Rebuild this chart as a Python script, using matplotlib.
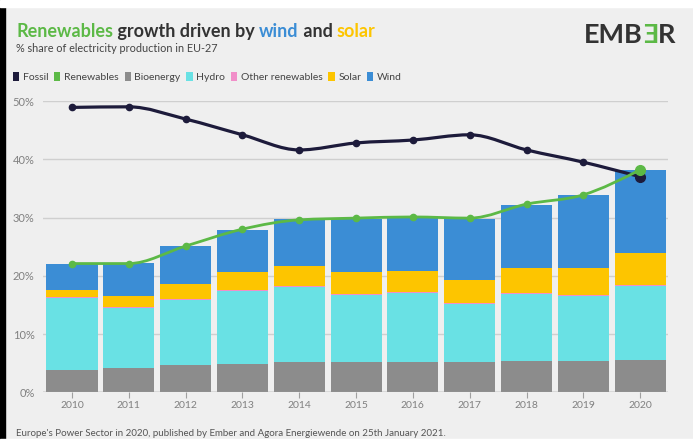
import numpy as np
import matplotlib
matplotlib.use("Agg")
import matplotlib.pyplot as plt
from matplotlib.path import Path
from matplotlib.patches import PathPatch, Patch, Rectangle

plt.rcParams['font.family'] = ['Lato', 'DejaVu Sans']

# data (% share of EU-27 electricity production)
years = [2010, 2011, 2012, 2013, 2014, 2015, 2016, 2017, 2018, 2019, 2020]
bioenergy = [3.8, 4.2, 4.7, 4.9, 5.2, 5.2, 5.2, 5.2, 5.3, 5.4, 5.6]
hydro = [12.4, 10.3, 11.1, 12.5, 12.8, 11.5, 11.8, 9.9, 11.6, 11.1, 12.6]
other_renewables = [0.2, 0.2, 0.2, 0.2, 0.2, 0.2, 0.2, 0.2, 0.2, 0.2, 0.2]
solar = [1.1, 1.8, 2.6, 3.0, 3.5, 3.7, 3.7, 3.9, 4.2, 4.6, 5.5]
wind = [4.6, 5.7, 6.5, 7.2, 8.0, 9.1, 9.1, 10.6, 10.9, 12.5, 14.3]
fossil = [48.9, 49.0, 46.9, 44.2, 41.6, 42.8, 43.3, 44.2, 41.6, 39.5, 37.0]
renewables = [22.1, 22.1, 25.1, 28.0, 29.6, 29.9, 30.1, 29.9, 32.3, 33.9, 38.2]
y_ticks = [0, 10, 20, 30, 40, 50]

BG = '#efefef'
DARK = '#333333'
colors = {
    'Fossil': '#1d1b3b',
    'Renewables': '#5cb946',
    'Bioenergy': '#8c8c8c',
    'Hydro': '#69e1e4',
    'Other renewables': '#f18fc9',
    'Solar': '#fdc500',
    'Wind': '#3b8dd5',
}

W, H = 693, 443
fig = plt.figure(figsize=(W / 100, H / 100), dpi=100, facecolor=BG)

# screenshot borders
fig.patches.append(Rectangle((0, 0), 5 / W, 1, transform=fig.transFigure, color='black', zorder=-1))
fig.patches.append(Rectangle((0, 1 - 7 / H), 1, 7 / H, transform=fig.transFigure, color='white', zorder=-1))
fig.patches.append(Rectangle((0, 0), 1, 4 / H, transform=fig.transFigure, color='white', zorder=-1))

ax = fig.add_axes([43 / W, (H - 392.3) / H, (668 - 43) / W, (392.3 - 101) / H])
ax.set_facecolor(BG)

x = np.arange(len(years))
bottom = np.zeros(len(years))
for name, vals in [('Bioenergy', bioenergy), ('Hydro', hydro), ('Other renewables', other_renewables),
                   ('Solar', solar), ('Wind', wind)]:
    ax.bar(x, vals, bottom=bottom, width=0.9, color=colors[name], zorder=2, linewidth=0)
    bottom += np.array(vals)


# smooth monotone-x curve (like d3.curveMonotoneX) drawn as bezier path
def monotone_path(xs, ys):
    xs = np.asarray(xs, float)
    ys = np.asarray(ys, float)
    n = len(xs)
    h = np.diff(xs)
    s = np.diff(ys) / h
    t = np.zeros(n)
    for i in range(1, n - 1):
        p = (s[i - 1] * h[i] + s[i] * h[i - 1]) / (h[i - 1] + h[i])
        t[i] = (np.sign(s[i - 1]) + np.sign(s[i])) * min(abs(s[i - 1]), abs(s[i]), 0.5 * abs(p))
    t[0] = (3 * s[0] - t[1]) / 2
    t[-1] = (3 * s[-1] - t[-2]) / 2
    verts = [(xs[0], ys[0])]
    codes = [Path.MOVETO]
    for i in range(n - 1):
        dx = (xs[i + 1] - xs[i]) / 3
        verts += [(xs[i] + dx, ys[i] + dx * t[i]), (xs[i + 1] - dx, ys[i + 1] - dx * t[i + 1]), (xs[i + 1], ys[i + 1])]
        codes += [Path.CURVE4] * 3
    return Path(verts, codes)


for name, vals, lw in [('Fossil', fossil, 2.3), ('Renewables', renewables, 2.0)]:
    ax.add_patch(PathPatch(monotone_path(x, vals), facecolor='none', edgecolor=colors[name],
                           linewidth=lw, zorder=3, capstyle='round', joinstyle='round'))
    ax.plot(x[:-1], vals[:-1], 'o', color=colors[name], markersize=4.5, zorder=4)
    ax.plot(x[-1:], vals[-1:], 'o', color=colors[name], markersize=7, zorder=4)

ax.set_xlim(-0.51, 10.49)
ax.set_ylim(0, 50)
ax.set_yticks(y_ticks)
ax.set_yticklabels([f'{v}%' for v in y_ticks])
ax.set_xticks(x)
ax.set_xticklabels([str(y) for y in years])
for sp in ax.spines.values():
    sp.set_visible(False)
ax.grid(axis='y', color='#cfcfcf', linewidth=1.0, zorder=0)
ax.axhline(0, color='#a0a0a0', linewidth=1.0, zorder=5)
ax.tick_params(axis='y', length=0, pad=6, labelsize=8, labelcolor='#808080')
ax.tick_params(axis='x', length=4, width=0.8, color='#a0a0a0', pad=2.5, labelsize=7.5, labelcolor='#808080')


def chain_text(x0, y0, parts, **kw):
    renderer = fig.canvas.get_renderer()
    xp = x0
    for s, c, extra in parts:
        t = fig.text(xp, y0, s, color=c, **kw, **extra)
        bb = t.get_window_extent(renderer)
        xp += bb.width / fig.bbox.width
    return xp


chain_text(16 / W, 1 - 37 / H, [
    ('Renewables', colors['Renewables'], {}),
    (' growth driven by ', DARK, {}),
    ('wind', colors['Wind'], {}),
    (' and ', DARK, {}),
    ('solar', colors['Solar'], {}),
], fontsize=13, fontweight='bold', va='baseline')

fig.text(16 / W, 1 - 52 / H, '% share of electricity production in EU-27', fontsize=7.8,
         color='#444444', va='baseline')

# logo
chain_text(584 / W, 1 - 43 / H, [
    ('EMB', DARK, {}),
    ('Ǝ', colors['Renewables'], {}),
    ('R', DARK, {}),
], fontsize=19.5, fontweight='bold', va='baseline')

handles = [Patch(facecolor=colors[k], edgecolor='none') for k in colors]
fig.legend(handles, list(colors.keys()), loc='center left', bbox_to_anchor=(13 / W, 1 - 77 / H),
           ncol=7, frameon=False, fontsize=7.5, handlelength=0.6, handleheight=1.0,
           handletextpad=0.35, columnspacing=0.55, borderpad=0, borderaxespad=0, labelcolor='#444444')

fig.text(16 / W, 1 - 436 / H,
         "Europe's Power Sector in 2020, published by Ember and Agora Energiewende on 25th January 2021.",
         fontsize=7, color='#555555', va='baseline')

fig.savefig('out.png', dpi=100, facecolor=BG)
